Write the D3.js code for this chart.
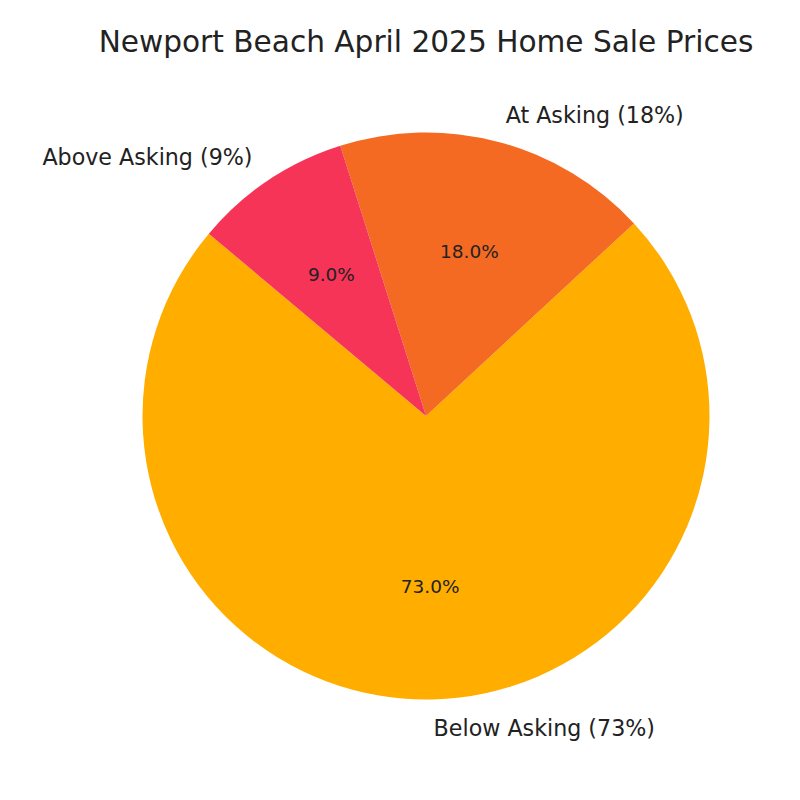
<!DOCTYPE html>
<html>
<head>
<meta charset="utf-8">
<script src="https://cdn.jsdelivr.net/npm/d3@7"></script>
<style>
  html, body { margin: 0; padding: 0; background: #fff; }
  svg { display: block; }
  text { font-family: "DejaVu Sans", sans-serif; fill: #222; }
</style>
</head>
<body>
<svg id="chart" width="800" height="800"></svg>
<script>
const title = "Newport Beach April 2025 Home Sale Prices";
const categories = ["Below Asking", "At Asking", "Above Asking"];
const values = [73, 18, 9];
const colors = ["#FFAE00", "#F46A22", "#F53458"];
const startAngleDeg = 140; // matplotlib-style, counterclockwise from 3 o'clock

const W = 800, H = 800;
const cx = 426, cy = 416, r = 283.5;

const svg = d3.select("#chart");
svg.append("text")
  .attr("x", 426).attr("y", 52)
  .attr("text-anchor", "middle")
  .style("font-size", "29.6px")
  .text(title);

// Convert matplotlib CCW angles to d3 (clockwise from 12 o'clock): d3 = 90 - mpl
const toRad = d => d * Math.PI / 180;
const pie = d3.pie().sort(null).value(d => d)
  .startAngle(toRad(90 - startAngleDeg))
  .endAngle(toRad(90 - startAngleDeg - 360));
const arcs = pie(values);
const arc = d3.arc().innerRadius(0).outerRadius(r);

const g = svg.append("g").attr("transform", `translate(${cx},${cy})`);
g.selectAll("path").data(arcs).enter().append("path")
  .attr("d", arc)
  .attr("fill", (d, i) => colors[i]);

const total = d3.sum(values);
arcs.forEach((d, i) => {
  const mid = (d.startAngle + d.endAngle) / 2;
  const sx = Math.sin(mid), sy = -Math.cos(mid);
  // outer label
  g.append("text")
    .attr("x", 1.1 * r * sx).attr("y", 1.1 * r * sy)
    .attr("text-anchor", sx >= 0 ? "start" : "end")
    .attr("dominant-baseline", "central")
    .style("font-size", "22.2px")
    .text(`${categories[i]} (${values[i]}%)`);
  // pct label
  g.append("text")
    .attr("x", 0.6 * r * sx).attr("y", 0.6 * r * sy)
    .attr("text-anchor", "middle")
    .attr("dominant-baseline", "central")
    .style("font-size", "18.5px")
    .text((values[i] / total * 100).toFixed(1) + "%");
});
</script>
</body>
</html>
